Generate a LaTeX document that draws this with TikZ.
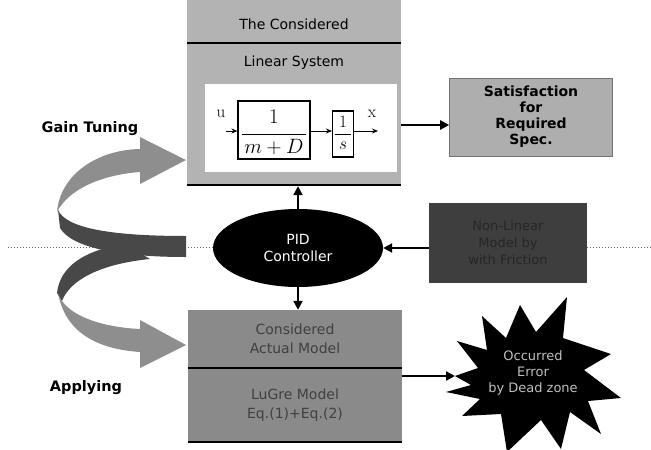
\documentclass[tikz,border=0pt]{standalone}
\usepackage{fontspec}
\setmainfont{DejaVu Sans}
\newfontfamily\lmserif{Latin Modern Roman}
\usetikzlibrary{arrows.meta,shapes.geometric}
\definecolor{topfill}{HTML}{B3B3B3}
\definecolor{satfill}{HTML}{AEAEAE}
\definecolor{lowfill}{HTML}{8A8A8A}
\definecolor{darkfill}{HTML}{3E3E3E}
\definecolor{frontfill}{HTML}{8E8E8E}
\definecolor{backfill}{HTML}{484848}
\tikzset{
  lbl/.style={font=\fontsize{14.5}{17}\selectfont\bfseries, inner sep=0},
  txt/.style={font=\fontsize{14}{18}\selectfont, align=center, inner sep=0},
  conn/.style={line width=2.2pt, -{Triangle[length=9pt,width=9pt]}},
  thin conn/.style={line width=0.9pt, -{Stealth[length=6pt,width=5pt]}},
  sepline/.style={line width=2pt},
  blockbox/.style={draw, line width=1.1pt, inner sep=0}
}
\begin{document}
\begin{tikzpicture}[x=1pt,y=-1pt]
\useasboundingbox (0,0) rectangle (651,450);
% dotted line
\coordinate (dl) at (8,247);
\coordinate (dr) at (651,247);
% top box
\node[fill=topfill, minimum width=214pt, minimum height=186pt, inner sep=0] (top) at (294,93) {};
\fill[white] (205,84) rectangle (397,172);
\draw[sepline] (top.west |- 0,43) -- (top.east |- 0,43);
\draw[sepline] (top.south west) ++(0,-1) -- ++(214,0);
\node[txt] (t1) at (294,24) {The Considered};
\node[txt] (t2) at (294,63) {Linear System};
% inner blocks
\node[blockbox, minimum width=72pt, minimum height=58pt] (b1) at (274,130) {};
\draw[line width=0.8pt] (242,134) -- (306,134);
\node[inner sep=0, font=\fontsize{21}{21}\selectfont] (b1n) at (274,117) {$1$};
\node[inner sep=0, font=\fontsize{21}{21}\selectfont] (b1d) at (274,147) {$m+D$};
\node[blockbox, minimum width=21pt, minimum height=46pt] (b2) at (343,134) {};
\draw[line width=0.8pt] (335,134) -- (351,134);
\node[inner sep=0, font=\fontsize{19}{19}\selectfont] (b2n) at (343,122) {$1$};
\node[inner sep=0, font=\fontsize{19}{19}\selectfont] (b2d) at (343,146) {$s$};
\coordinate (uin) at (226,131);
\coordinate (xout) at (378,131);
\draw[thin conn] (uin) -- (b1.west |- uin);
\draw[thin conn] (b1.east |- uin) -- (b2.west |- uin);
\draw[thin conn] (b2.east |- uin) -- (xout);
\node[inner sep=0, font=\lmserif\fontsize{17}{17}\selectfont] (ul) at (221,114) {u};
\node[inner sep=0, font=\lmserif\fontsize{17}{17}\selectfont] (xl) at (372,114) {x};
% satisfaction
\node[fill=satfill, draw=black!55, line width=0.6pt, minimum width=163pt, minimum height=78pt, align=center, inner sep=0, font=\fontsize{14}{16}\selectfont\bfseries] (sat) at (531,117) {Satisfaction\\for\\Required\\Spec.};
\draw[conn] ([yshift=-8pt]top.east |- sat.west) -- ([yshift=-8pt]sat.west);
% dotted line behind
\draw[dotted, line width=1pt, black!60] (dl) -- (215,247);
\draw[dotted, line width=1pt, black!60] (587,247) -- (dr);
% PID
\node[ellipse, fill=black, minimum width=170pt, minimum height=78pt, inner sep=0, align=center, text=white, font=\fontsize{14}{17}\selectfont] (pid) at (298,248) {PID\\Controller};
\draw[conn] (pid.north) -- (pid.north |- top.south);
% nonlinear box
\node[fill=darkfill, minimum width=158pt, minimum height=80pt, align=center, inner sep=0, text=black!85, font=\fontsize{13}{17}\selectfont] (nl) at (508,243) {Non-Linear\\Model by\\with Friction};
\draw[conn] (nl.west |- pid.east) -- (pid.east);
% lower box
\node[fill=lowfill, minimum width=214pt, minimum height=58pt, inner sep=0, align=center, text=black!75, font=\fontsize{14}{19}\selectfont] (am) at (295,339) {Considered\\Actual Model};
\node[fill=lowfill, minimum width=214pt, minimum height=75pt, inner sep=0, align=center, text=black!75, font=\fontsize{14}{19}\selectfont] (lg) at (295,405.5) {LuGre Model\\Eq.(1)+Eq.(2)};
\draw[sepline] (am.south west) -- (am.south east);
\draw[sepline] (lg.south west) ++(0,-1) -- ++(214,0);
\draw[conn] (pid.south) -- (pid.south |- am.north);
% starburst
\fill[black] (455,376) -- (478,368) -- (457,341) -- (487,350) -- (482,316) -- (506,338) -- (520,305) -- (536,332) -- (567,297) -- (563,338) -- (611,354) -- (584,370) -- (621,398) -- (588,401) -- (601,434) -- (570,412) -- (561,449) -- (541,420) -- (507,452) -- (501,414) -- (462,416) -- (480,399) -- (446,392) -- (471,385) -- cycle;
\node[inner sep=0, align=center, text=black!25, font=\fontsize{13}{16}\selectfont] (err) at (533,373) {Occurred\\Error\\by Dead zone};
\coordinate (errL) at (455,376);
\coordinate (lowR) at (402,376);
\draw[conn] (lowR) -- (errL);
% spiral ribbon: back pieces
\fill[backfill] (125,244) .. controls (85,250) and (60,266) .. (57,293) -- (62,301) .. controls (70,280) and (100,264) .. (150,259) -- cycle;
\fill[backfill] (58,210) .. controls (66,228) and (110,236) .. (186,236) -- (186,257) .. controls (120,257) and (72,248) .. (60,228) -- cycle;
% front pieces
\fill[frontfill] (57,212) .. controls (60,176) and (95,150) .. (140,149) -- (140,137) -- (186,160) -- (140,184) -- (140,172) .. controls (100,175) and (68,190) .. (57,212) -- cycle;
\fill[frontfill] (58,293) .. controls (65,315) and (100,327) .. (140,329) -- (140,320) -- (186,345) -- (140,368) -- (140,352) .. controls (95,349) and (65,331) .. (58,293) -- cycle;
% labels
\node[lbl] (gt) at (90,129) {Gain Tuning};
\node[lbl] (ap) at (86,388) {Applying};
\end{tikzpicture}
\end{document}
